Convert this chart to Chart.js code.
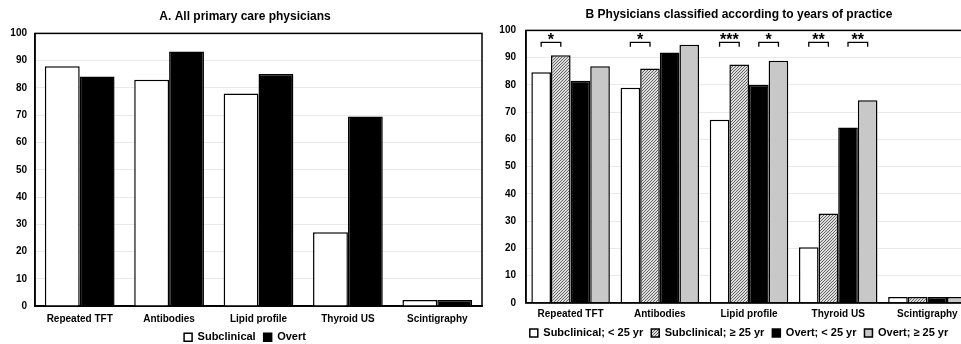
<!DOCTYPE html>
<html>
<head>
<meta charset="utf-8">
<script src="https://cdn.jsdelivr.net/npm/chart.js@4/dist/chart.umd.min.js"></script>
<style>
  body { margin: 0; background: #fff; overflow: hidden; width: 961px; height: 344px; position: relative; }
  #boxA { position: absolute; left: 0; top: 0; }
  #boxB { position: absolute; left: 490px; top: 0; }
</style>
</head>
<body>
<div id="boxA"><canvas id="chartA" width="490" height="344"></canvas></div>
<div id="boxB"><canvas id="chartB" width="496" height="344"></canvas></div>
<script>
// --- Data ---
const categories = ["Repeated TFT", "Antibodies", "Lipid profile", "Thyroid US", "Scintigraphy"];
const yTicks = [0, 10, 20, 30, 40, 50, 60, 70, 80, 90, 100];

// A. all physicians
const subclinicalAll = [88, 83, 78, 27.1, 2.3];
const overtAll = [84.2, 93.4, 85.1, 69.5, 2.3];

// B. by years of practice
const subLess25 = [84.6, 79, 67.2, 20.4, 2.2];
const subMore25 = [90.9, 86, 87.5, 32.8, 2.2];
const overtLess25 = [81.5, 91.9, 80.1, 64.4, 2.2];
const overtMore25 = [86.8, 94.7, 88.9, 74.4, 2.2];

// significance brackets (category index, dataset from, dataset to, label)
const bracketCats = [0, 1, 2, 2, 3, 3];
const bracketFrom = [0, 0, 0, 2, 0, 2];
const bracketTo = [1, 1, 1, 3, 1, 3];
const bracketLabels = ["*", "*", "***", "*", "**", "**"];
const bracketTop = 95.6;
const bracketFoot = 94;

const FONT = "'Liberation Sans', Arial, sans-serif";

// --- hatch pattern for "Subclinical; >= 25 yr" ---
function makeHatch() {
    const c = document.createElement('canvas');
    c.width = 3; c.height = 3;
    const g = c.getContext('2d');
    g.fillStyle = '#dcdcdc';
    g.fillRect(0, 0, 3, 3);
    g.fillStyle = '#666';
    for (let i = 0; i < 3; i++) g.fillRect(i, 2 - i, 1, 1);
    return g.createPattern(c, 'repeat');
}
const hatch = makeHatch();

// --- plot frame (box round the chart area) ---
const framePlugin = {
    id: 'frame',
    afterDraw(chart) {
        const a = chart.chartArea, ctx = chart.ctx;
        ctx.save();
        ctx.strokeStyle = '#000';
        ctx.lineWidth = 1.5;
        ctx.strokeRect(a.left, a.top, a.right - a.left, a.bottom - a.top);
        ctx.restore();
    }
};

// --- nudge title and legend sideways (centred on the plot, not the canvas) ---
function shiftPlugin(dx) {
    return {
        id: 'shift',
        afterLayout(chart) {
            [chart.legend, chart.titleBlock].forEach(b => {
                if (b) { b.left += dx; b.right += dx; }
            });
        }
    };
}

// --- significance brackets ---
const bracketPlugin = {
    id: 'brackets',
    afterDatasetsDraw(chart) {
        const ctx = chart.ctx, y = chart.scales.y;
        ctx.save();
        ctx.strokeStyle = '#000';
        ctx.lineWidth = 1.3;
        ctx.fillStyle = '#000';
        ctx.font = "bold 16px " + FONT;
        ctx.textAlign = 'center';
        ctx.textBaseline = 'alphabetic';
        bracketCats.forEach((cat, i) => {
            const xa = chart.getDatasetMeta(bracketFrom[i]).data[cat].x;
            const xb = chart.getDatasetMeta(bracketTo[i]).data[cat].x;
            const yt = y.getPixelForValue(bracketTop);
            const yf = y.getPixelForValue(bracketFoot);
            ctx.beginPath();
            ctx.moveTo(xa, yf); ctx.lineTo(xa, yt); ctx.lineTo(xb, yt); ctx.lineTo(xb, yf);
            ctx.stroke();
            ctx.fillText(bracketLabels[i], (xa + xb) / 2, yt + 3);
        });
        ctx.restore();
    }
};

function baseOptions(title, titlePad, yWidth, yPad, xPad, xHeight, legendPad, pad) {
    return {
        responsive: false,
        animation: false,
        devicePixelRatio: 1,
        layout: { padding: pad },
        plugins: {
            title: {
                display: true, text: title, color: '#000',
                font: { family: FONT, size: 12, weight: 'bold' },
                padding: titlePad
            },
            legend: {
                position: 'bottom',
                labels: {
                    color: '#000', boxWidth: 8, boxHeight: 8, padding: legendPad,
                    font: { family: FONT, size: 11, weight: 'bold' }
                }
            },
            tooltip: { enabled: false }
        },
        scales: {
            x: {
                grid: { display: false, drawTicks: false },
                border: { color: '#000', width: 1.5 },
                afterFit(scale) { scale.height = xHeight; },
                ticks: { color: '#000', padding: xPad, maxRotation: 0, font: { family: FONT, size: 10, weight: 'bold' } }
            },
            y: {
                min: 0, max: 100,
                afterBuildTicks(scale) { scale.ticks = yTicks.map(v => ({ value: v })); },
                afterFit(scale) { scale.width = yWidth; },
                grid: { color: '#e9e9e9', drawTicks: false },
                border: { color: '#000', width: 1.5 },
                ticks: { color: '#000', padding: yPad, font: { family: FONT, size: 10, weight: 'bold' } }
            }
        }
    };
}

function bar(label, data, fill) {
    return {
        label: label, data: data, backgroundColor: fill,
        borderColor: '#000', borderWidth: 1.5, borderSkipped: 'bottom'
    };
}

// --- Chart A ---
const optA = baseOptions("A. All primary care physicians", { top: 9, bottom: 10 }, 27, 8, 7, 17.5, 8,
    { left: 8, right: 8, bottom: -8.7 });
new Chart(document.getElementById('chartA'), {
    type: 'bar',
    data: {
        labels: categories,
        datasets: [
            Object.assign(bar("Subclinical", subclinicalAll, '#fff'), { categoryPercentage: 0.78, barPercentage: 1 }),
            Object.assign(bar("Overt", overtAll, '#000'), { categoryPercentage: 0.78, barPercentage: 1 })
        ]
    },
    options: optA,
    plugins: [framePlugin]
});

// --- Chart B ---
const optB = baseOptions("B Physicians classified according to years of practice", { top: 7, bottom: 9 }, 36, 10, 5.3, 16.5, 8,
    { left: 0, right: 14, bottom: -4.4 });
new Chart(document.getElementById('chartB'), {
    type: 'bar',
    data: {
        labels: categories,
        datasets: [
            bar("Subclinical; < 25 yr", subLess25, '#fff'),
            bar("Subclinical; \u2265 25 yr", subMore25, hatch),
            bar("Overt; < 25 yr", overtLess25, '#000'),
            bar("Overt; \u2265 25 yr", overtMore25, '#c8c8c8')
        ].map(d => Object.assign(d, { categoryPercentage: 0.88, barPercentage: 1 }))
    },
    options: optB,
    plugins: [framePlugin, bracketPlugin, shiftPlugin(8)]
});
</script>
</body>
</html>
